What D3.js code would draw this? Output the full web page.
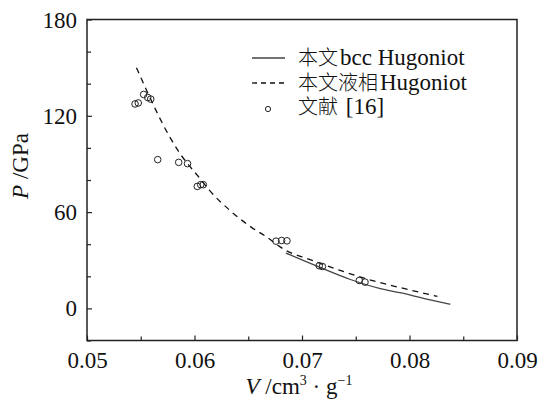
<!DOCTYPE html>
<html>
<head>
<meta charset="utf-8">
<title>Hugoniot</title>
<script src="https://d3js.org/d3.v7.min.js"></script>
<style>
  body { margin: 0; background: #fff; }
</style>
</head>
<body>
<script>
// liquid-phase Hugoniot (dashed)
var liqV = [0.0546, 0.0556, 0.0576, 0.0585, 0.0605, 0.0614, 0.0633, 0.0653, 0.0666, 0.0684, 0.0707, 0.0734, 0.0770, 0.0791, 0.0826];
var liqP = [150, 135, 108, 98, 81, 73.5, 61, 50.5, 45, 36.5, 30.5, 24, 16.5, 13, 7.5];
// bcc Hugoniot (solid)
var bccV = [0.0685, 0.0714, 0.0745, 0.0773, 0.0791, 0.0815, 0.0838];
var bccP = [34.5, 26.3, 18, 12.3, 9.8, 6, 2.6];
// reference [16] points
var refV = [0.05447, 0.05477, 0.05527, 0.05565, 0.05593, 0.05658, 0.05853, 0.05935, 0.06026, 0.06058, 0.06082, 0.06758, 0.0681, 0.0686, 0.0716, 0.0719, 0.07533, 0.07586];
var refP = [127.4, 128, 133.3, 131.4, 130.4, 92.7, 91, 90.2, 76, 77.1, 77.1, 41.9, 42.3, 42.1, 26.6, 26.1, 17.4, 16.4];

var xTicks = [0.05, 0.06, 0.07, 0.08, 0.09];
var xMinor = [0.055, 0.065, 0.075, 0.085];
var yTicks = [0, 60, 120, 180];
var yMinor = [-20, 20, 40, 80, 100, 140, 160];

var serif = "'Liberation Serif', 'DejaVu Serif', serif";
var cjk = "'Noto Sans CJK SC', sans-serif";

var W = 540, H = 399;
var pl = 87, pr = 517, pt = 19.5, pb = 340.5;

var svg = d3.select("body").append("svg")
  .attr("width", W).attr("height", H);

var x = d3.scaleLinear().domain([0.05, 0.09]).range([pl, pr]);
var y = d3.scaleLinear().domain([-20, 180]).range([pb, pt]);

// axes with inward ticks
var xAxis = svg.append("g").attr("transform", "translate(0," + pb + ")")
  .call(d3.axisBottom(x).tickValues(xTicks).tickSize(-5).tickPadding(11)
    .tickFormat(function(d) { return d.toFixed(2); }));
svg.append("g").attr("transform", "translate(0," + pb + ")")
  .call(d3.axisBottom(x).tickValues(xMinor).tickSize(-4).tickFormat(""));

var yAxis = svg.append("g").attr("transform", "translate(" + pl + ",0)")
  .call(d3.axisLeft(y).tickValues(yTicks).tickSize(-5).tickPadding(10));
svg.append("g").attr("transform", "translate(" + pl + ",0)")
  .call(d3.axisLeft(y).tickValues(yMinor).tickSize(-4).tickFormat(""));

svg.selectAll(".domain").remove();
svg.selectAll(".tick line").attr("stroke", "#222").attr("stroke-width", 1.2);
svg.selectAll(".tick text").attr("fill", "#111")
  .style("font-family", serif).style("font-size", "23px");
xAxis.selectAll(".tick text").attr("dy", "0.71em");
yAxis.selectAll(".tick text").attr("dy", "0.33em");

// frame
svg.append("rect")
  .attr("x", pl).attr("y", pt)
  .attr("width", pr - pl).attr("height", pb - pt)
  .attr("fill", "none").attr("stroke", "#222").attr("stroke-width", 1.5);

var line = d3.line()
  .x(function(d) { return x(d[0]); })
  .y(function(d) { return y(d[1]); })
  .curve(d3.curveMonotoneX);

var liq = liqV.map(function(v, i) { return [v, liqP[i]]; });
var bcc = bccV.map(function(v, i) { return [v, bccP[i]]; });
var ref = refV.map(function(v, i) { return [v, refP[i]]; });

svg.append("path").datum(bcc)
  .attr("d", line).attr("fill", "none")
  .attr("stroke", "#444").attr("stroke-width", 1.3);

svg.append("path").datum(liq)
  .attr("d", line).attr("fill", "none")
  .attr("stroke", "#111").attr("stroke-width", 1.3)
  .attr("stroke-dasharray", "6,5");

svg.selectAll(".pt").data(ref).enter().append("circle")
  .attr("cx", function(d) { return x(d[0]); })
  .attr("cy", function(d) { return y(d[1]); })
  .attr("r", 3.3)
  .attr("fill", "none").attr("stroke", "#222").attr("stroke-width", 1);

// legend
var lg = svg.append("g");
lg.append("line").attr("x1", 252).attr("x2", 285).attr("y1", 58).attr("y2", 58)
  .attr("stroke", "#444").attr("stroke-width", 1.3);
lg.append("line").attr("x1", 252).attr("x2", 287).attr("y1", 83).attr("y2", 83)
  .attr("stroke", "#111").attr("stroke-width", 1.3).attr("stroke-dasharray", "5,4");
lg.append("circle").attr("cx", 268).attr("cy", 109).attr("r", 2.6)
  .attr("fill", "none").attr("stroke", "#222").attr("stroke-width", 1);

function legendText(yy, zh, latin) {
  var t = lg.append("text").attr("x", 298).attr("y", yy)
    .attr("fill", "#111").style("font-family", serif).style("font-size", "23px");
  t.append("tspan").style("font-family", cjk).style("font-size", "20px")
    .style("font-weight", 300).text(zh);
  t.append("tspan").attr("dx", 2).text(latin);
}
legendText(65, "本文", "bcc Hugoniot");
legendText(90, "本文液相", "Hugoniot");
legendText(114, "文献", " [16]");

// axis titles
var yt = svg.append("text")
  .attr("transform", "translate(28,166) rotate(-90)")
  .attr("text-anchor", "middle").attr("fill", "#111")
  .style("font-family", serif).style("font-size", "23px");
yt.append("tspan").style("font-style", "italic").text("P");
yt.append("tspan").text(" /GPa");

var xt = svg.append("text")
  .attr("x", 299).attr("y", 394)
  .attr("text-anchor", "middle").attr("fill", "#111")
  .style("font-family", serif).style("font-size", "23px");
xt.append("tspan").style("font-style", "italic").text("V");
xt.append("tspan").text(" /cm");
xt.append("tspan").style("font-size", "14px").attr("dy", -9).text("3");
xt.append("tspan").attr("dy", 9).text(" · g");
xt.append("tspan").style("font-size", "14px").attr("dy", -9).text("−1");
</script>
</body>
</html>
